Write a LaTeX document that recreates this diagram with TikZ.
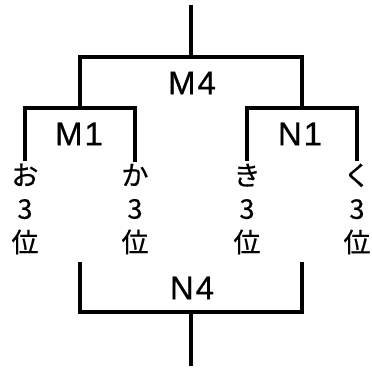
\documentclass[tikz,border=0pt]{standalone}
\usepackage{fontspec}
\setmainfont{Liberation Sans}
\newfontfamily\jpfont[FakeBold=0.6]{Noto Sans CJK JP}
\newfontfamily\titlefont[LetterSpace=6, FakeBold=0.6]{Liberation Sans}
\tikzset{
    bracket/.style={draw, line width=4pt, line join=miter, line cap=butt},
    title/.style={font=\titlefont\fontsize{33}{33}\selectfont, inner sep=0pt},
    leaf/.style={align=center, font=\jpfont\fontsize{27}{33.5}\selectfont, inner sep=2pt}
}

\begin{document}
\begin{tikzpicture}[x=1pt, y=1pt]
    \useasboundingbox (0,0) rectangle (372,368);

    % fixed points of the brackets
    \coordinate (topEnd) at (191,363);
    \coordinate (m4Mid) at (191,311);
    \coordinate (m1Mid) at (80,260);
    \coordinate (n1Mid) at (302,260);
    \coordinate (n4Left) at (80,106);
    \coordinate (n4Right) at (302,106);
    \coordinate (n4Mid) at (191,56);
    \coordinate (bottomEnd) at (191,2);

    \node[title] (M4) at (192,285) {M4};
    \node[title] (M1) at (79,234) {M1};
    \node[title] (N1) at (300,234) {N1};
    \node[title] (N4) at (192,80) {N4};

    \node[leaf] (o) at (25,159) {お\\3\\位};
    \node[leaf] (ka) at (135,159) {か\\3\\位};
    \node[leaf] (ki) at (247,159) {き\\3\\位};
    \node[leaf] (ku) at (357,159) {く\\3\\位};

    \draw[bracket] (o.north) -- (o.north |- m1Mid) -- (ka.north |- m1Mid) -- (ka.north);
    \draw[bracket] (ki.north) -- (ki.north |- n1Mid) -- (ku.north |- n1Mid) -- (ku.north);
    \draw[bracket] (m1Mid) -- (m1Mid |- m4Mid) -- (n1Mid |- m4Mid) -- (n1Mid);
    \draw[bracket] (m4Mid) -- (topEnd);

    \draw[bracket] (n4Left) -- (n4Left |- n4Mid) -- (n4Right |- n4Mid) -- (n4Right);
    \draw[bracket] (n4Mid) -- (bottomEnd);
\end{tikzpicture}
\end{document}
